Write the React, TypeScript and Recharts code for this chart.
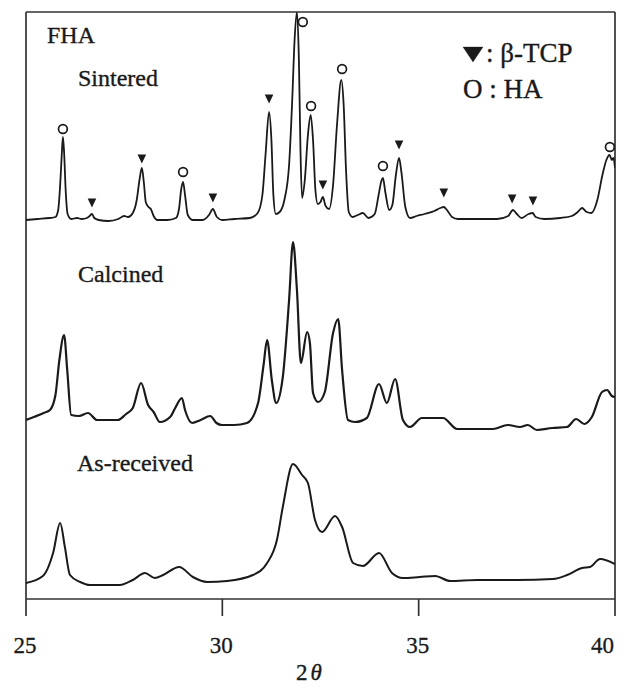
import React from "react";
import { ComposedChart, Line, Scatter, XAxis, YAxis, ReferenceLine } from "recharts";

const xTicks = [25, 30, 35, 40];

// [2θ, intensity (arbitrary, stacked offset)]
const sintered: [number, number][] = [
  [25.0, 379], [25.3, 380], [25.6, 381], [25.75, 382], [25.82, 389], [25.87, 414], [25.91, 444],
  [25.94, 462], [25.97, 447], [26.01, 409], [26.06, 385], [26.15, 380], [26.3, 381], [26.42, 380],
  [26.55, 381], [26.62, 383], [26.68, 385], [26.74, 381], [26.85, 379], [27.1, 378], [27.35, 380],
  [27.5, 383], [27.6, 382], [27.72, 386], [27.82, 399], [27.89, 419], [27.95, 431], [28.0, 417],
  [28.05, 397], [28.12, 392], [28.18, 390], [28.25, 383], [28.35, 379], [28.6, 379], [28.82, 381],
  [28.9, 391], [28.95, 409], [29.0, 417], [29.05, 404], [29.12, 384], [29.25, 379], [29.5, 379],
  [29.66, 384], [29.76, 390], [29.86, 382], [30.0, 379], [30.3, 380], [30.7, 381], [30.9, 386],
  [31.02, 404], [31.1, 444], [31.19, 487], [31.25, 459], [31.3, 404], [31.36, 385], [31.46, 387],
  [31.58, 399], [31.7, 434], [31.78, 499], [31.84, 559], [31.9, 587], [31.95, 539], [31.99, 449],
  [32.03, 401], [32.1, 419], [32.18, 464], [32.25, 484], [32.31, 459], [32.37, 409], [32.43, 395],
  [32.5, 397], [32.56, 402], [32.63, 393], [32.72, 390], [32.82, 414], [32.92, 474], [33.03, 519],
  [33.09, 494], [33.15, 429], [33.22, 387], [33.32, 382], [33.45, 384], [33.58, 386], [33.72, 381],
  [33.88, 385], [33.98, 404], [34.05, 418], [34.09, 421], [34.15, 407], [34.25, 389], [34.33, 394],
  [34.42, 424], [34.5, 441], [34.56, 427], [34.66, 392], [34.78, 381], [34.95, 383], [35.15, 385],
  [35.4, 388], [35.55, 391], [35.64, 392], [35.72, 389], [35.85, 382], [36.0, 380], [36.5, 380],
  [37.0, 380], [37.28, 383], [37.4, 389], [37.5, 385], [37.62, 381], [37.8, 385], [37.9, 386],
  [37.98, 382], [38.2, 380], [38.6, 381], [38.9, 383], [39.05, 387], [39.16, 391], [39.28, 387],
  [39.4, 386], [39.55, 399], [39.68, 424], [39.78, 439], [39.86, 444], [39.92, 439], [39.96, 441],
  [40.0, 431],
];

const calcined: [number, number][] = [
  [25.0, 179], [25.2, 182], [25.45, 186], [25.61, 189], [25.75, 204], [25.85, 239], [25.97, 264],
  [26.05, 229], [26.15, 184], [26.35, 183], [26.58, 186], [26.81, 179], [27.1, 179], [27.34, 179],
  [27.55, 185], [27.72, 191], [27.93, 216], [28.11, 194], [28.25, 187], [28.41, 177], [28.67, 182],
  [28.8, 191], [28.97, 201], [29.05, 189], [29.23, 176], [29.45, 179], [29.69, 183], [29.85, 176],
  [29.99, 174], [30.3, 174], [30.63, 176], [30.91, 196], [31.05, 234], [31.14, 259], [31.26, 219],
  [31.37, 196], [31.54, 222], [31.7, 299], [31.8, 357], [31.9, 309], [32.0, 236], [32.16, 267],
  [32.23, 256], [32.31, 206], [32.44, 197], [32.61, 207], [32.82, 266], [32.95, 280], [33.05, 229],
  [33.2, 179], [33.38, 177], [33.68, 181], [33.99, 215], [34.19, 196], [34.4, 220], [34.6, 179],
  [34.78, 172], [35.08, 181], [35.62, 181], [35.98, 170], [36.5, 170], [36.89, 170], [37.27, 174],
  [37.58, 172], [37.78, 174], [38.01, 169], [38.4, 171], [38.78, 172], [39.01, 180], [39.22, 175],
  [39.41, 182], [39.67, 207], [39.8, 209], [39.92, 203], [40.0, 202],
];

const asReceived: [number, number][] = [
  [25.0, 16], [25.43, 23], [25.69, 46], [25.87, 76], [25.99, 52], [26.12, 24], [26.38, 17],
  [26.63, 14], [27.39, 14], [27.72, 19], [28.03, 26], [28.28, 21], [28.49, 24], [28.9, 32],
  [29.25, 22], [29.61, 17], [30.12, 18], [30.78, 24], [31.14, 36], [31.39, 59], [31.54, 92],
  [31.8, 135], [32.03, 124], [32.18, 116], [32.36, 79], [32.54, 67], [32.87, 83], [33.05, 72],
  [33.33, 36], [33.58, 33], [33.99, 46], [34.32, 26], [34.6, 21], [35.03, 22], [35.42, 23],
  [35.8, 18], [36.5, 19], [37.5, 19], [38.42, 20], [38.78, 24], [39.16, 31], [39.36, 32],
  [39.62, 40], [40.0, 35],
];

// peak annotation markers (O : HA, ▼ : β-TCP)
const haPeaks: [number, number][] = [
  [25.94, 470], [29.0, 427], [32.05, 577], [32.26, 493], [33.05, 530], [34.09, 433], [39.87, 452],
];
const tcpPeaks: [number, number][] = [
  [26.68, 396], [27.95, 440], [29.76, 401], [31.19, 500], [32.56, 414], [34.5, 454], [35.64, 406],
  [37.38, 400], [37.91, 398],
];

const toRows = (pts: [number, number][]) => pts.map(([x, y]) => ({ x, y }));

const FONT = "'Liberation Serif', 'Times New Roman', serif";
const INK = "#1a1a1a";

function Tick(props: any) {
  const { x, y, payload } = props;
  const v = payload.value;
  const isLast = v === 40;
  return (
    <text
      x={x - 1}
      y={y}
      dy={35}
      textAnchor={isLast ? "end" : "middle"}
      fontFamily={FONT}
      fontSize={23}
      fill={INK}
      stroke={INK}
      strokeWidth={0.3}
    >
      {v}
    </text>
  );
}

const Circle = (p: any) => (
  <circle cx={p.cx} cy={p.cy} r={4.4} fill="none" stroke={INK} strokeWidth={1.7} />
);
const Tri = (p: any) => (
  <polygon
    points={`${p.cx - 4.3},${p.cy - 4.6} ${p.cx + 4.3},${p.cy - 4.6} ${p.cx},${p.cy + 4.6}`}
    fill={INK}
  />
);

export default function App() {
  const W = 620;
  const H = 687;
  return (
    <div style={{ position: "relative", width: W, height: H }}>
      <ComposedChart
        width={W}
        height={H}
        margin={{ top: 4, right: 13, bottom: 36, left: 18 }}
      >
        <XAxis
          dataKey="x"
          type="number"
          domain={[25, 40]}
          ticks={xTicks}
          allowDataOverflow
          height={60}
          tickSize={17}
          tick={<Tick />}
          axisLine={{ stroke: "#333", strokeWidth: 1.7 }}
          tickLine={{ stroke: "#333", strokeWidth: 1.7 }}
        />
        <YAxis type="number" domain={[0, 587]} allowDataOverflow hide />
        <ReferenceLine y={587} stroke="#333" strokeWidth={1.7} />
        <ReferenceLine x={25} stroke="#333" strokeWidth={1.7} />
        <ReferenceLine x={40} stroke="#333" strokeWidth={1.7} />
        <Line data={toRows(asReceived)} dataKey="y" type="monotone" stroke={INK} strokeWidth={2} dot={false} isAnimationActive={false} />
        <Line data={toRows(calcined)} dataKey="y" type="monotone" stroke={INK} strokeWidth={2.2} dot={false} isAnimationActive={false} />
        <Line data={toRows(sintered)} dataKey="y" type="monotone" stroke={INK} strokeWidth={1.8} dot={false} isAnimationActive={false} />
        <Scatter data={toRows(haPeaks)} dataKey="y" shape={Circle} isAnimationActive={false} />
        <Scatter data={toRows(tcpPeaks)} dataKey="y" shape={Tri} isAnimationActive={false} />
      </ComposedChart>
      <svg
        width={W}
        height={H}
        style={{ position: "absolute", left: 0, top: 0, pointerEvents: "none" }}
        fontFamily={FONT}
        fill={INK}
        stroke={INK}
        strokeWidth={0.35}
      >
        <text x={39} y={35} fontSize={24}>FHA</text>
        <text x={70} y={78} fontSize={24}>Sintered</text>
        <text x={70} y={274} fontSize={24}>Calcined</text>
        <text x={69} y={463} fontSize={24}>As-received</text>
        <polygon points="455,39 475,39 465,54" fill={INK} />
        <text x={478} y={54} fontSize={27}>: β-TCP</text>
        <text x={455} y={90} fontSize={27}>O : HA</text>
        <text x={301} y={672} fontSize={23} textAnchor="middle">
          2<tspan fontStyle="italic" dx={3}>θ</tspan>
        </text>
      </svg>
    </div>
  );
}
